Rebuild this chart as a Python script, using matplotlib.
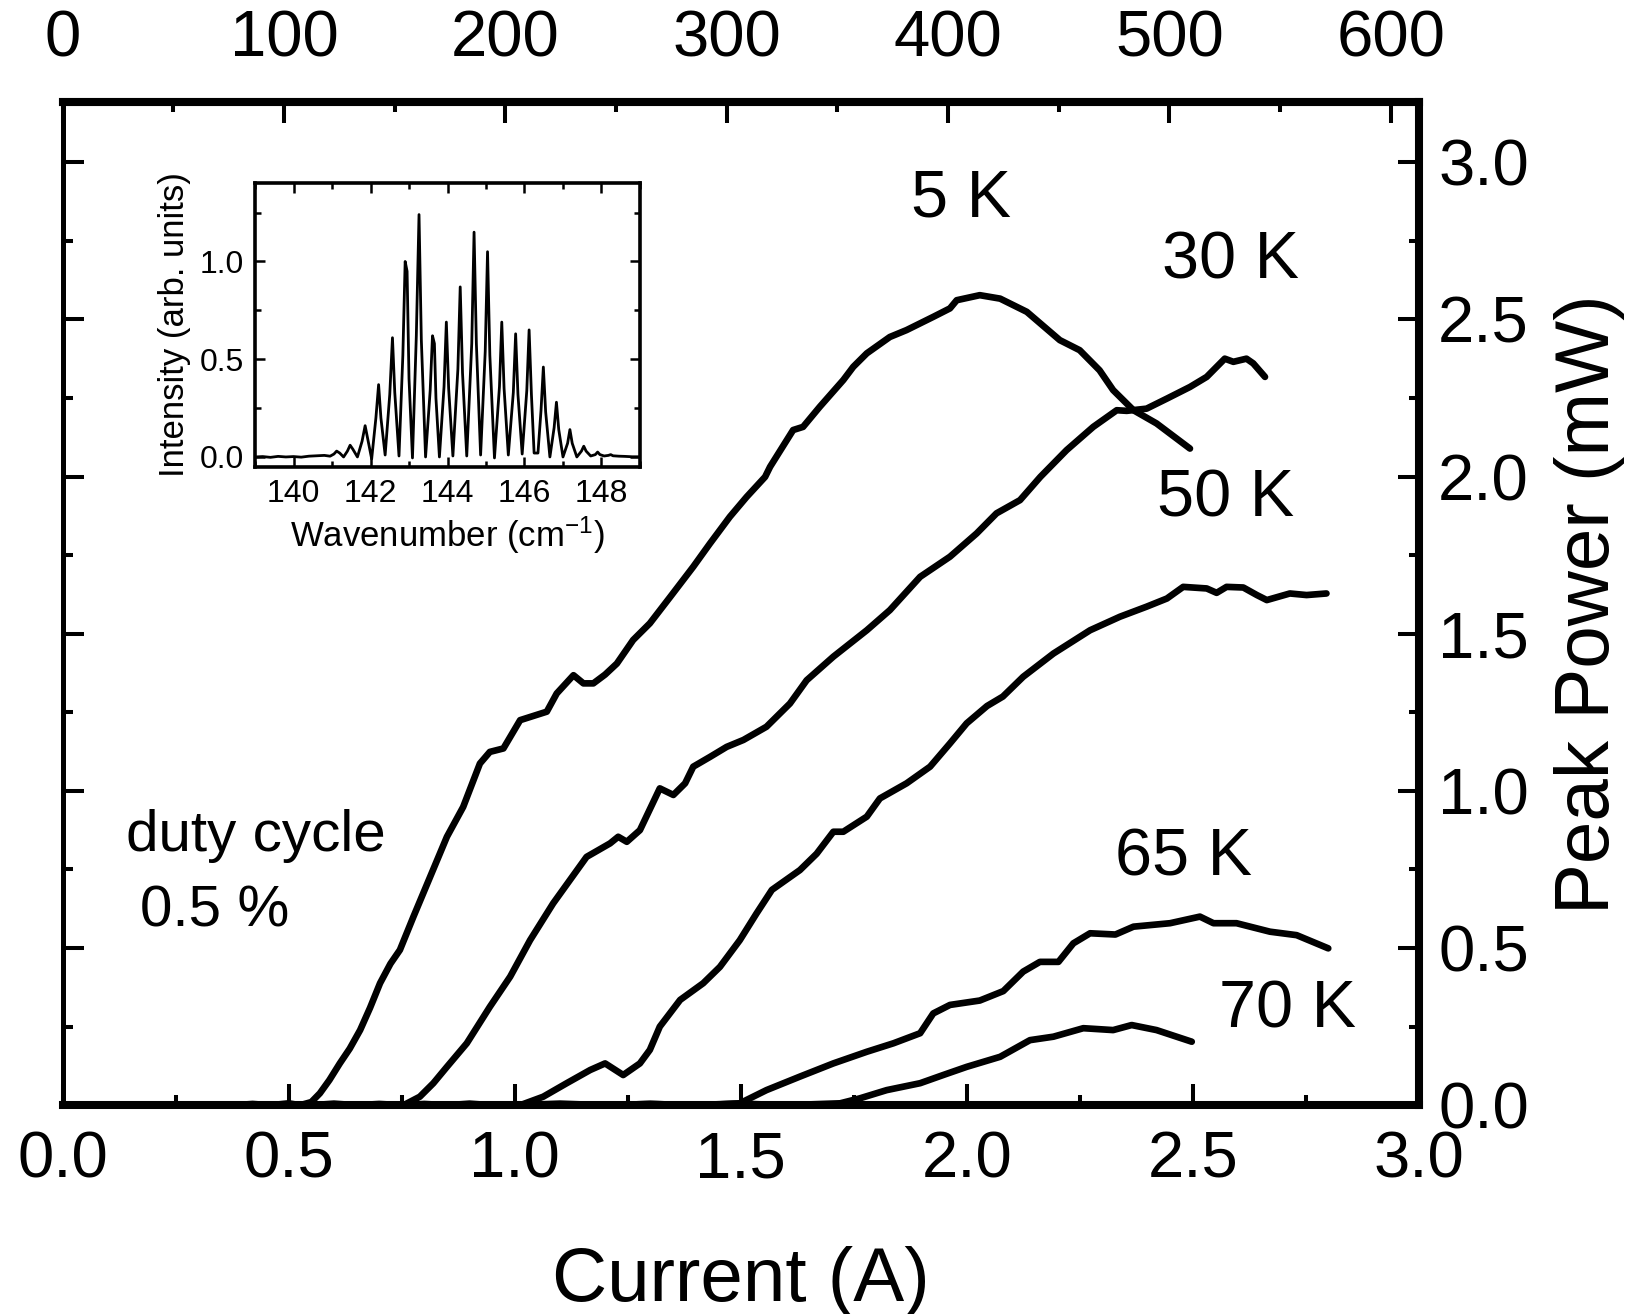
import matplotlib
matplotlib.use('Agg')
import matplotlib.pyplot as plt
from matplotlib.ticker import MultipleLocator, FixedLocator

plt.rcParams['font.family'] = ['Liberation Sans', 'DejaVu Sans']
plt.rcParams['mathtext.fontset'] = 'custom'
plt.rcParams['mathtext.rm'] = 'Liberation Sans'
plt.rcParams['mathtext.it'] = 'Liberation Sans:italic'
plt.rcParams['mathtext.bf'] = 'Liberation Sans:bold'

# ---------------- main data: peak power (mW) vs current (A) ----------------
i_5K = [0.38, 0.42, 0.46, 0.50, 0.525, 0.55, 0.569, 0.59, 0.613, 0.635, 0.658, 0.68, 0.702, 0.725,
        0.746, 0.776, 0.813, 0.85, 0.886, 0.923, 0.945, 0.975, 1.012, 1.071, 1.093, 1.13, 1.152,
        1.174, 1.20, 1.226, 1.262, 1.299, 1.344, 1.395, 1.432, 1.476, 1.513, 1.554, 1.565, 1.616,
        1.638, 1.675, 1.727, 1.749, 1.779, 1.83, 1.867, 1.926, 1.963, 1.978, 2.029, 2.074, 2.133,
        2.206, 2.25, 2.294, 2.324, 2.369, 2.42, 2.494]
p_5K = [0.0, 0.004, 0.0, 0.006, 0.0, 0.01, 0.038, 0.08, 0.133, 0.18, 0.239, 0.31, 0.388, 0.45,
        0.494, 0.60, 0.727, 0.854, 0.949, 1.087, 1.124, 1.135, 1.225, 1.252, 1.31, 1.368, 1.342,
        1.342, 1.37, 1.405, 1.48, 1.533, 1.617, 1.713, 1.787, 1.872, 1.935, 1.999, 2.031, 2.148,
        2.158, 2.222, 2.307, 2.349, 2.392, 2.444, 2.466, 2.508, 2.535, 2.561, 2.577, 2.566, 2.524,
        2.434, 2.402, 2.338, 2.275, 2.211, 2.169, 2.089]

i_30K = [0.55, 0.60, 0.65, 0.70, 0.754, 0.79, 0.82, 0.85, 0.894, 0.945, 0.99, 1.034, 1.085, 1.122,
         1.159, 1.211, 1.229, 1.248, 1.277, 1.321, 1.351, 1.377, 1.395, 1.432, 1.469, 1.506, 1.557,
         1.609, 1.646, 1.705, 1.779, 1.83, 1.897, 1.963, 2.022, 2.066, 2.118, 2.163, 2.221, 2.28,
         2.332, 2.354, 2.398, 2.443, 2.494, 2.531, 2.571, 2.59, 2.619, 2.634, 2.66]
p_30K = [0.0, 0.005, 0.0, 0.004, 0.0, 0.027, 0.07, 0.122, 0.197, 0.313, 0.409, 0.525, 0.642, 0.716,
         0.79, 0.833, 0.854, 0.838, 0.875, 1.008, 0.987, 1.024, 1.077, 1.108, 1.14, 1.162, 1.204,
         1.278, 1.352, 1.427, 1.511, 1.575, 1.681, 1.745, 1.819, 1.883, 1.925, 1.999, 2.084, 2.158,
         2.211, 2.209, 2.216, 2.248, 2.285, 2.317, 2.375, 2.365, 2.375, 2.36, 2.317]

i_50K = [0.75, 0.80, 0.85, 0.90, 0.95, 1.012, 1.063, 1.115, 1.167, 1.20, 1.24, 1.277, 1.299, 1.321,
         1.366, 1.417, 1.454, 1.498, 1.535, 1.569, 1.631, 1.668, 1.705, 1.727, 1.779, 1.808, 1.867,
         1.919, 1.963, 2.0, 2.045, 2.08, 2.125, 2.192, 2.273, 2.339, 2.398, 2.443, 2.479, 2.531,
         2.553, 2.575, 2.612, 2.642, 2.664, 2.715, 2.752, 2.796]
p_50K = [0.0, 0.004, 0.0, 0.005, 0.0, 0.0, 0.027, 0.07, 0.112, 0.133, 0.096, 0.133, 0.176, 0.25,
         0.335, 0.388, 0.44, 0.525, 0.61, 0.685, 0.748, 0.80, 0.87, 0.87, 0.918, 0.976, 1.024,
         1.077, 1.151, 1.215, 1.27, 1.30, 1.363, 1.437, 1.511, 1.554, 1.586, 1.612, 1.649, 1.644,
         1.63, 1.649, 1.647, 1.623, 1.607, 1.628, 1.623, 1.628]

i_65K = [1.0, 1.1, 1.2, 1.3, 1.4, 1.498, 1.557, 1.631, 1.705, 1.779, 1.838, 1.897, 1.926, 1.963,
         2.029, 2.081, 2.125, 2.162, 2.203, 2.236, 2.273, 2.329, 2.369, 2.45, 2.516, 2.546, 2.597,
         2.671, 2.73, 2.80]
p_65K = [0.0, 0.005, 0.0, 0.004, 0.0, 0.006, 0.048, 0.091, 0.133, 0.17, 0.197, 0.229, 0.292, 0.319,
         0.333, 0.363, 0.425, 0.456, 0.456, 0.515, 0.547, 0.543, 0.568, 0.579, 0.60, 0.579, 0.579,
         0.552, 0.541, 0.499]

i_70K = [1.2, 1.3, 1.4, 1.5, 1.6, 1.72, 1.764, 1.823, 1.897, 1.948, 2.0, 2.074, 2.14, 2.192, 2.258,
         2.324, 2.365, 2.42, 2.498]
p_70K = [0.0, 0.004, 0.0, 0.005, 0.0, 0.006, 0.022, 0.048, 0.07, 0.096, 0.122, 0.154, 0.207, 0.218,
         0.245, 0.239, 0.255, 0.239, 0.202]

curve_labels = ['5 K', '30 K', '50 K', '65 K', '70 K']
label_x = [1.988, 2.584, 2.572, 2.48, 2.709]
label_y = [2.88, 2.685, 1.928, 0.784, 0.30]

x_ticks = [0.0, 0.5, 1.0, 1.5, 2.0, 2.5, 3.0]
y_ticks = [0.0, 0.5, 1.0, 1.5, 2.0, 2.5, 3.0]
top_ticks = [0, 100, 200, 300, 400, 500, 600]

# ---------------- inset data: spectrum ----------------
wavenumber = [139.00, 139.20, 139.40, 139.60, 139.80, 140.00, 140.20, 140.40, 140.60, 140.80, 140.95,
              141.05, 141.12, 141.20, 141.30,
              141.40, 141.47, 141.54, 141.66,
              141.78, 141.86, 141.93, 142.03,
              142.14, 142.21, 142.27, 142.38,
              142.50, 142.57, 142.63, 142.74,
              142.84, 142.90, 142.95, 143.00, 143.09,
              143.19, 143.26, 143.32, 143.43,
              143.55, 143.61, 143.66, 143.70, 143.79,
              143.91, 143.97, 144.03, 144.14,
              144.27, 144.33, 144.39, 144.50,
              144.63, 144.69, 144.75, 144.86,
              144.98, 145.04, 145.10, 145.22,
              145.35, 145.41, 145.47, 145.58,
              145.71, 145.77, 145.83, 145.94,
              146.06, 146.12, 146.18, 146.25, 146.35,
              146.43, 146.49, 146.55, 146.66,
              146.77, 146.83, 146.89, 147.00,
              147.12, 147.18, 147.24, 147.36,
              147.48, 147.54, 147.60, 147.72,
              147.84, 147.90, 147.96, 148.07,
              148.18, 148.24, 148.30, 148.45, 148.60, 148.80, 149.00]
intensity = [0.000, 0.002, -0.002, 0.003, 0.000, 0.002, -0.001, 0.004, 0.006, 0.008, 0.004,
             0.015, 0.030, 0.020, 0.000,
             0.030, 0.060, 0.040, 0.000,
             0.080, 0.160, 0.090, -0.010,
             0.200, 0.370, 0.200, 0.010,
             0.320, 0.610, 0.330, 0.005,
             0.520, 1.000, 0.950, 0.400, -0.005,
             0.620, 1.240, 0.600, 0.000,
             0.340, 0.620, 0.580, 0.300, 0.000,
             0.360, 0.690, 0.350, 0.005,
             0.450, 0.870, 0.430, 0.005,
             0.580, 1.150, 0.580, 0.010,
             0.540, 1.050, 0.520, -0.005,
             0.360, 0.690, 0.350, 0.010,
             0.330, 0.630, 0.320, 0.015,
             0.340, 0.650, 0.320, 0.020, 0.020,
             0.240, 0.460, 0.230, 0.000,
             0.150, 0.280, 0.140, 0.000,
             0.070, 0.140, 0.070, 0.000,
             0.030, 0.055, 0.030, 0.005,
             0.012, 0.025, 0.012, 0.005,
             0.008, 0.012, 0.006, 0.004, 0.003, 0.001, 0.001]
inset_x_ticks = [140, 142, 144, 146, 148]
inset_y_ticks = [0.0, 0.5, 1.0]

# ---------------- figure ----------------
fig = plt.figure(figsize=(16.38, 13.14), dpi=100)
ax = fig.add_axes([0.0383, 0.1589, 0.8278, 0.7631])

for I, P in [(i_5K, p_5K), (i_30K, p_30K), (i_50K, p_50K), (i_65K, p_65K), (i_70K, p_70K)]:
    ax.plot(I, P, color='black', lw=4.8, solid_joinstyle='round', solid_capstyle='round')

ax.set_xlim(0, 3.0)
ax.set_ylim(0, 3.19)
ax.xaxis.set_major_locator(FixedLocator(x_ticks))
ax.xaxis.set_minor_locator(FixedLocator([0.25, 0.75, 1.25, 1.75, 2.25, 2.75]))
ax.yaxis.set_major_locator(FixedLocator(y_ticks))
ax.yaxis.set_minor_locator(FixedLocator([0.25, 0.75, 1.25, 1.75, 2.25, 2.75]))
ax.xaxis.set_major_formatter(matplotlib.ticker.FormatStrFormatter('%.1f'))
ax.yaxis.set_major_formatter(matplotlib.ticker.FormatStrFormatter('%.1f'))

ax.tick_params(axis='both', which='both', direction='in', top=False, width=2.9)
ax.tick_params(axis='both', which='major', length=15)
ax.tick_params(axis='both', which='minor', length=7)
ax.tick_params(axis='x', which='major', labelsize=47, pad=18)
ax.tick_params(axis='y', which='both', left=True, right=True, labelleft=False, labelright=True)
ax.tick_params(axis='y', which='major', labelsize=47, pad=14)

for side in ['bottom', 'right', 'top']:
    ax.spines[side].set_linewidth(5.8)
ax.spines['left'].set_linewidth(3.6)

ax.set_xlabel('Current (A)', fontsize=55)
ax.xaxis.set_label_coords(0.5, -0.14)
ax.yaxis.set_label_position('right')
ax.set_ylabel('Peak Power (mW)', fontsize=55)
ax.yaxis.set_label_coords(1.10, 0.5)

# top axis (current density)
scale = 204.2
top = ax.secondary_xaxis('top', functions=(lambda x: x * scale, lambda x: x / scale))
top.xaxis.set_major_locator(FixedLocator(top_ticks))
top.xaxis.set_minor_locator(FixedLocator([50, 150, 250, 350, 450, 550]))
top.xaxis.set_major_formatter(matplotlib.ticker.FormatStrFormatter('%d'))
top.tick_params(axis='x', which='both', direction='in', width=2.9)
top.tick_params(axis='x', which='major', length=15, labelsize=47, pad=24)
top.tick_params(axis='x', which='minor', length=7)
top.spines['top'].set_linewidth(5.8)

for lab, x, y in zip(curve_labels, label_x, label_y):
    ax.text(x, y, lab, fontsize=48, ha='center', va='center')
ax.text(0.428, 0.857, 'duty cycle', fontsize=42, ha='center', va='center')
ax.text(0.337, 0.615, '0.5 %', fontsize=42, ha='center', va='center')

# ---------------- inset ----------------
ins = fig.add_axes([0.1557, 0.6448, 0.2350, 0.2157])
ins.plot(wavenumber, intensity, color='black', lw=2.0)
ins.set_xlim(139, 149)
ins.set_ylim(-0.05, 1.40)
ins.xaxis.set_major_locator(FixedLocator(inset_x_ticks))
ins.xaxis.set_minor_locator(FixedLocator([139, 141, 143, 145, 147, 149]))
ins.yaxis.set_major_locator(FixedLocator(inset_y_ticks))
ins.yaxis.set_minor_locator(FixedLocator([0.25, 0.75, 1.25]))
ins.yaxis.set_major_formatter(matplotlib.ticker.FormatStrFormatter('%.1f'))
ins.tick_params(axis='both', which='both', direction='in', top=True, right=True, width=1.8)
ins.tick_params(axis='both', which='major', length=7, labelsize=23)
ins.tick_params(axis='both', which='minor', length=4)
ins.tick_params(axis='x', which='major', pad=9)
ins.tick_params(axis='y', which='major', pad=8)
for side in ins.spines:
    ins.spines[side].set_linewidth(2.6)
ins.set_xlabel(r'Wavenumber (cm$^{-1}$)', fontsize=25, labelpad=4)
ins.set_ylabel('Intensity (arb. units)', fontsize=25, labelpad=6)

fig.savefig('out.png', dpi=100)
